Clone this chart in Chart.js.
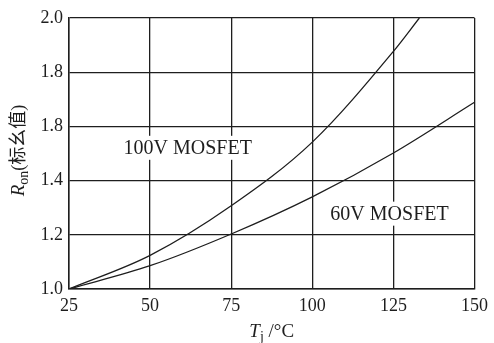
<!DOCTYPE html>
<html>
<head>
<meta charset="utf-8">
<script src="https://cdn.jsdelivr.net/npm/chart.js@4/dist/chart.umd.min.js"></script>
<style>
  body { margin: 0; background: #fff; }
  canvas { display: block; }
</style>
</head>
<body>
<canvas id="chart" width="494" height="343"></canvas>
<script>
// values
let temps100 = [25, 50, 75, 100, 125, 133];
let ron100 = [1.0, 1.124, 1.307, 1.542, 1.877, 2.0];
let temps60 = [25, 50, 75, 100, 125, 150];
let ron60 = [1.0, 1.086, 1.203, 1.34, 1.502, 1.689];
let xTicks = [25, 50, 75, 100, 125, 150];
let yTickLabels = ["1.0", "1.2", "1.4", "1.8", "1.8", "2.0"];

const SERIF = "'Liberation Serif', 'DejaVu Serif', 'Noto Sans CJK SC', serif";
const INK = "#1e1e1e";

function toPoints(xs, ys) {
    return xs.map((x, i) => ({ x: x, y: ys[i] }));
}

// curve labels and axis titles (with subscripts)
const annotations = {
    id: "annotations",
    afterDraw(chart) {
        let ctx = chart.ctx;
        let xs = chart.scales.x;
        let ys = chart.scales.y;
        ctx.save();

        // curve labels on white boxes
        ctx.font = "20px " + SERIF;
        ctx.textBaseline = "middle";
        ctx.textAlign = "center";
        [["100V MOSFET", 61.6, 1.521], ["60V MOSFET", 123.8, 1.278]].forEach(l => {
            let px = xs.getPixelForValue(l[1]);
            let py = ys.getPixelForValue(l[2]);
            let w = ctx.measureText(l[0]).width;
            ctx.fillStyle = "#fff";
            ctx.fillRect(px - w / 2 - 6, py - 12, w + 12, 24);
            ctx.fillStyle = INK;
            ctx.fillText(l[0], px, py + 1);
        });

        // x title: T_j /℃
        ctx.textAlign = "left";
        ctx.textBaseline = "alphabetic";
        let parts = [["italic 19px " + SERIF, "T", 0], ["14px " + SERIF, "j", 4], ["19px " + SERIF, " /°C", 0]];
        let total = 0;
        parts.forEach(p => { ctx.font = p[0]; total += ctx.measureText(p[1]).width; });
        let cx = (xs.left + xs.right) / 2 - total / 2;
        parts.forEach(p => {
            ctx.font = p[0];
            ctx.fillText(p[1], cx, 337 + p[2]);
            cx += ctx.measureText(p[1]).width;
        });

        // y title: R_on(标幺值), rotated
        ctx.translate(24, (ys.top + ys.bottom) / 2 - 3);
        ctx.rotate(-Math.PI / 2);
        parts = [["italic 19px " + SERIF, "R", 0], ["14px " + SERIF, "on", 4], ["18px " + SERIF, "(标幺值)", 0]];
        total = 0;
        parts.forEach(p => { ctx.font = p[0]; total += ctx.measureText(p[1]).width; });
        cx = -total / 2;
        parts.forEach(p => {
            ctx.font = p[0];
            ctx.fillText(p[1], cx, p[2]);
            cx += ctx.measureText(p[1]).width;
        });
        ctx.restore();
    }
};

let ctx = document.getElementById("chart").getContext("2d");
new Chart(ctx, {
    type: "line",
    data: {
        datasets: [
            {
                label: "100V MOSFET",
                data: toPoints(temps100, ron100),
                borderColor: INK,
                borderWidth: 1.3,
                pointRadius: 0,
                cubicInterpolationMode: "monotone",
                fill: false
            },
            {
                label: "60V MOSFET",
                data: toPoints(temps60, ron60),
                borderColor: INK,
                borderWidth: 1.3,
                pointRadius: 0,
                cubicInterpolationMode: "monotone",
                fill: false
            }
        ]
    },
    options: {
        responsive: false,
        animation: false,
        layout: { padding: { top: 18, right: 18, left: 0, bottom: 0 } },
        plugins: {
            legend: { display: false },
            tooltip: { enabled: false }
        },
        scales: {
            x: {
                type: "linear",
                min: 25,
                max: 150,
                afterBuildTicks: s => { s.ticks = xTicks.map(v => ({ value: v })); },
                afterFit: s => { s.height = 343 - 289; },
                grid: { color: INK, lineWidth: 1.3, drawTicks: false },
                border: { color: INK, width: 1.5 },
                ticks: {
                    color: INK,
                    padding: 6,
                    maxRotation: 0,
                    font: { family: SERIF, size: 18 }
                }
            },
            y: {
                min: 1.0,
                max: 2.0,
                afterFit: s => { s.width = 69; },
                grid: { color: INK, lineWidth: 1.3, drawTicks: false },
                border: { color: INK, width: 1.5 },
                ticks: {
                    stepSize: 0.2,
                    color: INK,
                    padding: 6,
                    font: { family: SERIF, size: 18 },
                    callback: (v, i) => yTickLabels[i]
                }
            }
        }
    },
    plugins: [annotations]
});
</script>
</body>
</html>
